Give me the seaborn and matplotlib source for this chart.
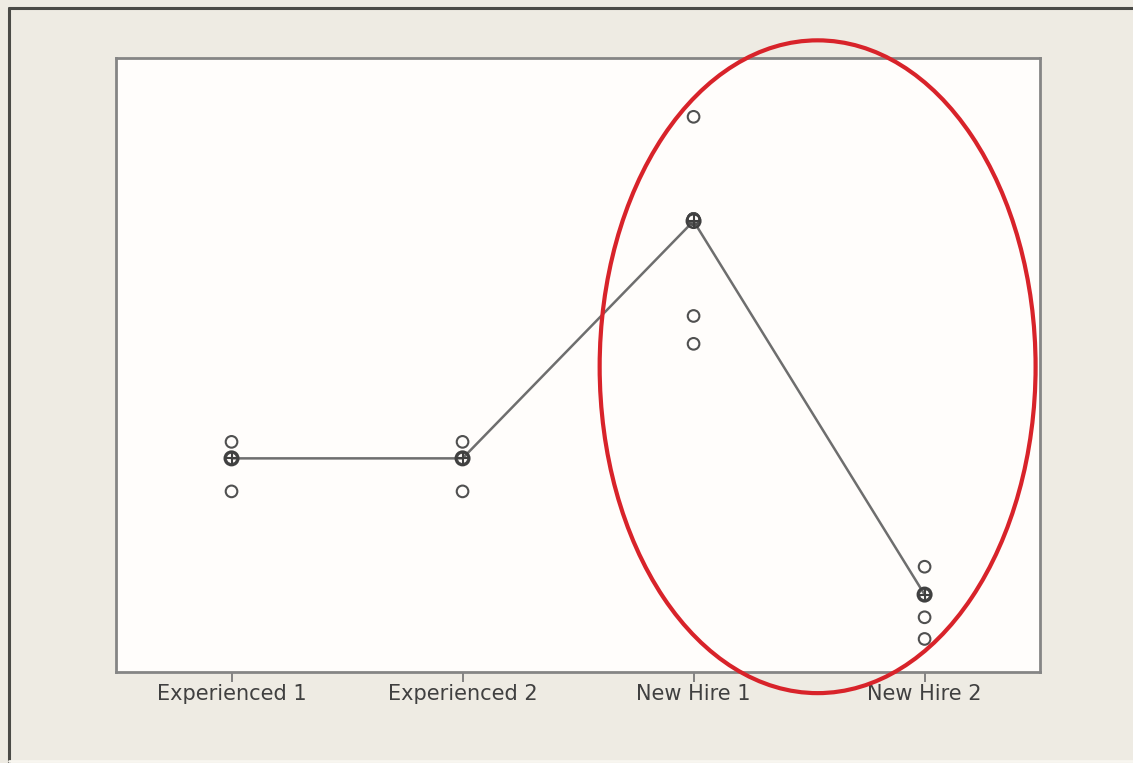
import matplotlib
matplotlib.use('Agg')
import matplotlib.pyplot as plt
import seaborn as sns
import pandas as pd
from matplotlib.patches import Ellipse
from matplotlib.lines import Line2D

# categories and readings
groups = ['Experienced 1', 'Experienced 2', 'New Hire 1', 'New Hire 2']
exp1_vals = [11.3, 10.5, 10.5, 8.9]
exp2_vals = [11.3, 10.5, 10.5, 8.9]
nh1_vals = [27.05, 22.1, 22.1, 22.1, 17.4, 16.05]
nh2_vals = [5.25, 3.9, 3.9, 3.9, 2.8, 1.75]
group_means = [10.5, 10.5, 22.0, 3.9]

obs = pd.concat([
    pd.DataFrame({'group': groups[0], 'value': exp1_vals}),
    pd.DataFrame({'group': groups[1], 'value': exp2_vals}),
    pd.DataFrame({'group': groups[2], 'value': nh1_vals}),
    pd.DataFrame({'group': groups[3], 'value': nh2_vals}),
], ignore_index=True)
means = pd.DataFrame({'group': groups, 'mean': group_means})

bg = '#EEEBE3'
sns.set_style('white')
plt.rcParams['font.family'] = ['DejaVu Sans']

fig = plt.figure(figsize=(11.33, 7.63), dpi=100, facecolor=bg)
ax = fig.add_axes([0.1024, 0.1193, 0.8156, 0.8047])
ax.set_facecolor('#FFFDFB')

sns.lineplot(data=means, x='group', y='mean', color='#6e6e6e', linewidth=1.8,
             sort=False, ax=ax, zorder=2)
sns.scatterplot(data=obs, x='group', y='value', marker='o', s=70,
                facecolors='none', edgecolor='#505050', linewidth=1.5, ax=ax, zorder=3)
sns.scatterplot(data=means, x='group', y='mean', marker='o', s=95,
                facecolors='none', edgecolor='#404040', linewidth=1.8, ax=ax, zorder=4)
sns.scatterplot(data=means, x='group', y='mean', marker='+', s=70,
                color='#404040', linewidth=1.5, ax=ax, zorder=4)

ax.set_xlim(-0.5, 3.5)
ax.set_ylim(0.15, 29.9)
ax.set_xlabel('')
ax.set_ylabel('')
ax.set_yticks([10, 20])
ax.set_yticklabels([])
ax.tick_params(axis='y', length=2, color='#bdbdbd')
ax.tick_params(axis='x', length=7, width=1.2, color='#707070', labelsize=15,
               labelcolor='#404040', pad=2, bottom=True)
for s in ax.spines.values():
    s.set_color('#858585')
    s.set_linewidth(2)

# red highlight ellipse round the new hire groups
ell = Ellipse((2.537, 14.94), 1.887, 31.63, fill=False, edgecolor='#D8232A',
              linewidth=3, clip_on=False, zorder=5)
ax.add_patch(ell)

# window frame
fig.add_artist(Line2D([0.008, 0.008], [0, 0.99], transform=fig.transFigure,
                      color='#4a4a46', linewidth=2.2))
fig.add_artist(Line2D([0.008, 1.0], [0.99, 0.99], transform=fig.transFigure,
                      color='#4a4a46', linewidth=2.2))
fig.add_artist(Line2D([0.008, 1.0], [0.003, 0.003], transform=fig.transFigure,
                      color='#f8f6f0', linewidth=2))

fig.savefig('out.png', dpi=100, facecolor=bg)
